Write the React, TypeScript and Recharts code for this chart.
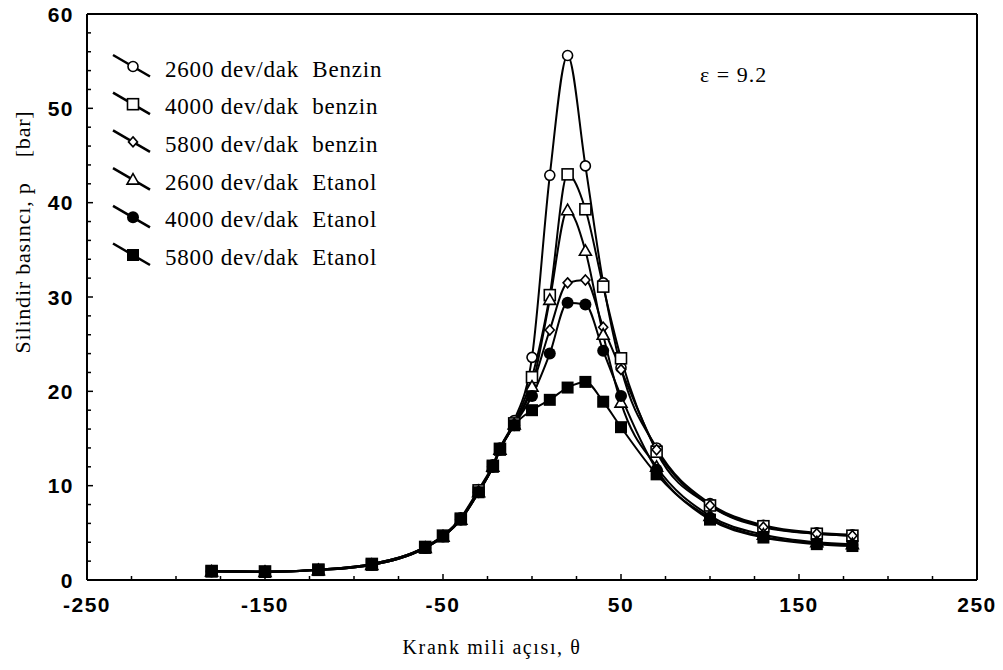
import { Legend, Line, LineChart, ReferenceLine, XAxis, YAxis } from "recharts";

// crank angle (deg)
const theta = [-180, -150, -120, -90, -60, -50, -40, -30, -22, -18, -10, 0, 10, 20, 30, 40, 50, 70, 100, 130, 160, 180];

// cylinder pressure (bar)
const benzin2600 = [0.95, 0.9, 1.1, 1.7, 3.5, 4.7, 6.6, 9.6, 12.2, 14.0, 16.9, 23.6, 42.9, 55.6, 43.9, 31.5, 22.5, 14.0, 8.1, 5.8, 5.0, 4.8];
const benzin4000 = [0.95, 0.9, 1.1, 1.7, 3.5, 4.7, 6.5, 9.5, 12.1, 13.9, 16.6, 21.5, 30.2, 43.0, 39.3, 31.1, 23.5, 13.6, 7.9, 5.7, 4.9, 4.7];
const benzin5800 = [0.95, 0.9, 1.1, 1.7, 3.5, 4.7, 6.5, 9.4, 12.0, 13.9, 16.5, 20.5, 26.5, 31.5, 31.8, 26.8, 22.3, 13.8, 7.9, 5.6, 4.9, 4.7];
const etanol2600 = [0.9, 0.85, 1.05, 1.6, 3.4, 4.6, 6.4, 9.3, 12.0, 13.8, 16.5, 20.5, 29.7, 39.2, 34.9, 26.0, 18.8, 12.0, 6.8, 4.8, 4.0, 3.8];
const etanol4000 = [0.9, 0.85, 1.05, 1.6, 3.4, 4.6, 6.4, 9.3, 12.0, 13.8, 16.4, 19.5, 24.0, 29.4, 29.2, 24.3, 19.5, 11.7, 6.6, 4.6, 3.9, 3.7];
const etanol5800 = [0.9, 0.85, 1.05, 1.6, 3.4, 4.6, 6.4, 9.3, 12.0, 13.8, 16.4, 18.0, 19.1, 20.4, 21.0, 18.9, 16.2, 11.2, 6.4, 4.5, 3.8, 3.6];

const seriesKeys = ["b2600", "b4000", "b5800", "e2600", "e4000", "e5800"];
const seriesNames = [
  "2600 dev/dak  Benzin",
  "4000 dev/dak  benzin",
  "5800 dev/dak  benzin",
  "2600 dev/dak  Etanol",
  "4000 dev/dak  Etanol",
  "5800 dev/dak  Etanol",
];
const markerKinds = ["circle", "square", "diamond", "triangle", "dot", "block"];

const xTicks = [-250, -225, -200, -175, -150, -125, -100, -75, -50, -25, 0, 25, 50, 75, 100, 125, 150, 175, 200, 225, 250];
const xLabels = [-250, -150, -50, 50, 150, 250];
const yTicks = Array.from({ length: 31 }, (_, i) => i * 2);
const yLabels = [0, 10, 20, 30, 40, 50, 60];

const seriesValues = [benzin2600, benzin4000, benzin5800, etanol2600, etanol4000, etanol5800];
const data = theta.map((t, i) => {
  const row: Record<string, number> = { theta: t };
  seriesKeys.forEach((k, s) => (row[k] = seriesValues[s][i]));
  return row;
});

const SERIF = "'Liberation Serif', 'Times New Roman', serif";
const SANS = "'Liberation Sans', Arial, sans-serif";

function marker(kind: string, cx: number, cy: number, key?: string) {
  const sw = 1.6;
  switch (kind) {
    case "circle":
      return <circle key={key} cx={cx} cy={cy} r={5} fill="#fff" stroke="#000" strokeWidth={sw} />;
    case "square":
      return <rect key={key} x={cx - 5.5} y={cy - 5.5} width={11} height={11} fill="#fff" stroke="#000" strokeWidth={sw} />;
    case "diamond":
      return (
        <polygon key={key} points={`${cx},${cy - 5} ${cx + 4.5},${cy} ${cx},${cy + 5} ${cx - 4.5},${cy}`} fill="#fff" stroke="#000" strokeWidth={sw} />
      );
    case "triangle":
      return (
        <polygon key={key} points={`${cx},${cy - 6} ${cx + 6},${cy + 4.5} ${cx - 6},${cy + 4.5}`} fill="#fff" stroke="#000" strokeWidth={sw} />
      );
    case "dot":
      return <circle key={key} cx={cx} cy={cy} r={6} fill="#000" />;
    default:
      return <rect key={key} x={cx - 6} y={cy - 6} width={12} height={12} fill="#000" />;
  }
}

const XTick = (props: any) => {
  const { x, y, payload } = props;
  const v = payload.value;
  const labelled = xLabels.includes(v);
  return (
    <g>
      <line x1={x} y1={y} x2={x} y2={y - (labelled ? 6 : 4)} stroke="#000" strokeWidth={1.5} />
      {labelled && (
        <text x={x} y={y + 32} textAnchor="middle" fontFamily={SANS} fontWeight="bold" fontSize={21} letterSpacing={1.5} fill="#000">
          {v}
        </text>
      )}
    </g>
  );
};

const YTick = (props: any) => {
  const { x, y, payload } = props;
  const v = payload.value;
  const labelled = yLabels.includes(v);
  return (
    <g>
      <line x1={x} y1={y} x2={x + (labelled ? 6 : 4)} y2={y} stroke="#000" strokeWidth={1.5} />
      {labelled && (
        <text x={x - 13} y={y + 7.5} textAnchor="end" fontFamily={SANS} fontWeight="bold" fontSize={21} letterSpacing={1.5} fill="#000">
          {v}
        </text>
      )}
    </g>
  );
};

const LegendBox = () => (
  <svg width={330} height={240} style={{ overflow: "visible" }}>
    {seriesNames.map((name, i) => {
      const yc = 21.5 + i * 37.7;
      return (
        <g key={name}>
          <line x1={13} y1={yc - 11.5} x2={50} y2={yc + 10} stroke="#000" strokeWidth={2.5} />
          {marker(markerKinds[i], 33, yc)}
          <text x={65} y={yc + 10} fontFamily={SERIF} fontSize={23} letterSpacing={0.8} fill="#000" style={{ whiteSpace: "pre" }}>
            {name}
          </text>
        </g>
      );
    })}
  </svg>
);

export default function App() {
  return (
    <div style={{ position: "absolute", left: 0, top: 0, width: 1003, height: 670, background: "#fff" }}>
      <LineChart width={1003} height={670} data={data} margin={{ top: 14, right: 26, bottom: 0, left: 0 }}>
        <XAxis
          dataKey="theta"
          type="number"
          domain={[-250, 250]}
          ticks={xTicks}
          interval={0}
          height={90}
          tickSize={0}
          tickMargin={0}
          tickLine={false}
          tick={<XTick />}
          axisLine={{ stroke: "#000", strokeWidth: 2 }}
          allowDataOverflow
        />
        <YAxis
          type="number"
          domain={[0, 60]}
          ticks={yTicks}
          interval={0}
          width={87}
          tickSize={0}
          tickMargin={0}
          tickLine={false}
          tick={<YTick />}
          axisLine={{ stroke: "#000", strokeWidth: 2 }}
          allowDataOverflow
        />
        <ReferenceLine y={60} stroke="#000" strokeWidth={2} ifOverflow="visible" />
        <ReferenceLine x={250} stroke="#000" strokeWidth={2} ifOverflow="visible" />
        <Legend
          layout="vertical"
          align="center"
          verticalAlign="middle"
          content={<LegendBox />}
          wrapperStyle={{ position: "absolute", left: 100, top: 45, width: 330, height: 240 }}
        />
        {seriesKeys.map((k, i) => (
          <Line
            key={k}
            dataKey={k}
            name={seriesNames[i]}
            type="monotone"
            stroke="#000"
            strokeWidth={2}
            isAnimationActive={false}
            activeDot={false}
            dot={(p: any) => marker(markerKinds[i], p.cx, p.cy, `${k}-${p.index}`)}
          />
        ))}
      </LineChart>
      <svg width={1003} height={670} style={{ position: "absolute", left: 0, top: 0, pointerEvents: "none" }}>
        <text x={700} y={82} fontFamily={SERIF} fontSize={22} letterSpacing={1} fill="#000">
          ε = 9.2
        </text>
        <text x={492} y={654} textAnchor="middle" fontFamily={SERIF} fontSize={20} letterSpacing={1.6} fill="#000">
          Krank mili açısı, θ
        </text>
        <text
          x={0}
          y={0}
          transform="translate(30 232) rotate(-90)"
          textAnchor="middle"
          fontFamily={SERIF}
          fontSize={22}
          letterSpacing={0.8}
          fill="#000"
          style={{ whiteSpace: "pre" }}
        >
          Silindir basıncı, p    [bar]
        </text>
      </svg>
    </div>
  );
}
